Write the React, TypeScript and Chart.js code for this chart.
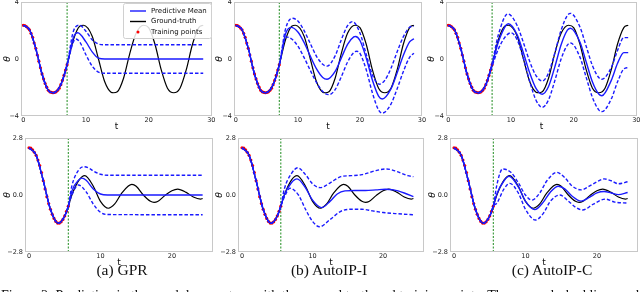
import React, { useEffect, useRef } from "react";
import { Chart, registerables } from "chart.js";
Chart.register(...registerables);

// ---------------- data ----------------
const TOP_X_TICKS = [0, 10, 20, 30];
const BOT_X_TICKS = [0, 10, 20];
const TOP_Y_TICKS = [-4, 0, 4];
const TOP_Y_LABELS = ["−4", "0", "4"];
const BOT_Y_TICKS = [-2.8, 0, 2.8];
const BOT_Y_LABELS = ["−2.8", "0.0", "2.8"];
const TOP_SPLIT = 7;
const BOT_SPLIT = 5.5;
const CAPTIONS = ["(a) GPR", "(b) AutoIP-I", "(c) AutoIP-C"];
const LEGEND_LABELS = ["Predictive Mean", "Ground-truth", "Training points"];
const FIG_TEXT =
  "Figure 2: Prediction in the pendulum system with the ground truth and training points. The green dashed line marks the end of the training data, and the";

// top row: undamped pendulum
const TOP_GT_T = [0, 1, 2, 3, 4, 4.8, 6, 7, 8, 9, 9.6, 11, 12, 13, 14, 14.4, 15, 16, 17, 18, 19.2, 20, 21, 22, 23, 24, 25, 26, 27, 28, 28.7];
const TOP_GT_Y = [2.37, 2.05, 0.75, -1.05, -2.2, -2.37, -1.8, -0.4, 1.35, 2.3, 2.37, 1.6, 0, -1.6, -2.33, -2.37, -2.3, -1.35, 0.4, 1.8, 2.37, 2.2, 1.05, -0.75, -2.05, -2.37, -2.05, -0.75, 1.05, 2.2, 2.37];
const TOP_TRAIN_T = [0, 0.25, 0.5, 0.75, 1, 1.25, 1.5, 1.75, 2, 2.25, 2.5, 2.75, 3, 3.25, 3.5, 3.75, 4, 4.25, 4.5, 4.75, 5, 5.25, 5.5, 5.75, 6, 6.25, 6.5, 6.75, 7];
const TOP_TRAIN_Y = [2.37, 2.35, 2.28, 2.17, 2.05, 1.8, 1.52, 1.12, 0.75, 0.28, -0.15, -0.62, -1.05, -1.4, -1.72, -1.98, -2.2, -2.3, -2.34, -2.37, -2.35, -2.3, -2.2, -2.05, -1.8, -1.5, -1.15, -0.78, -0.4];

const GPR_TOP_MEAN_T = [7, 8, 8.7, 10, 11, 12, 13, 28.7];
const GPR_TOP_MEAN_Y = [-0.4, 1.5, 1.84, 1.2, 0.5, 0.06, 0, 0];
const GPR_TOP_UP_T = [7, 8, 9, 10, 11, 12, 13, 28.7];
const GPR_TOP_UP_Y = [-0.4, 1.95, 2.37, 1.95, 1.35, 1.05, 1.0, 1.0];
const GPR_TOP_LO_T = [7, 8, 8.4, 9, 10, 11, 12, 13, 28.7];
const GPR_TOP_LO_Y = [-0.4, 1.2, 1.4, 1.2, 0.3, -0.5, -0.92, -1.0, -1.0];

const AIPI_TOP_MEAN_T = [7, 8, 8.9, 10, 11, 12, 13, 14, 14.7, 16, 17, 18, 19, 19.3, 20, 21, 22, 23, 23.6, 25, 26, 27, 28, 28.7];
const AIPI_TOP_MEAN_Y = [-0.4, 1.75, 2.22, 1.9, 1.16, 0.2, -0.7, -1.3, -1.42, -0.87, 0.08, 1.03, 1.55, 1.58, 1.3, 0.09, -1.47, -2.6, -2.81, -2.1, -0.97, 0.26, 1.2, 1.42];
const AIPI_TOP_UP_T = [7, 8, 9.1, 10, 11, 12, 13, 14, 14.7, 16, 17, 18, 18.8, 20, 21, 22, 23.1, 24, 25, 26, 27, 28, 28.7];
const AIPI_TOP_UP_Y = [-0.4, 2.1, 2.86, 2.66, 1.99, 1.08, 0.19, -0.37, -0.5, 0.22, 1.36, 2.34, 2.62, 1.83, 0.34, -1.1, -1.77, -1.5, -0.65, 0.51, 1.57, 2.22, 2.3];
const AIPI_TOP_LO_T = [7, 8.1, 9, 10, 11, 12, 13, 14, 15, 16, 17, 18, 19, 19.5, 20, 21, 22, 23, 23.6, 25, 26, 27, 28, 28.7];
const AIPI_TOP_LO_Y = [-0.4, 1.55, 1.4, 0.9, 0.1, -0.8, -1.65, -2.28, -2.5, -2.15, -1.24, -0.22, 0.45, 0.54, 0.39, -0.74, -2.37, -3.58, -3.8, -3.16, -2.08, -0.87, 0.12, 0.4];

const AIPC_TOP_MEAN_T = [7, 8, 9.6, 11, 12, 13, 14, 15, 16, 17, 18, 19, 19.5, 21, 22, 23, 24, 24.5, 26, 27, 28, 28.7];
const AIPC_TOP_MEAN_Y = [-0.4, 1.2, 2.47, 1.7, 0.42, -0.98, -2.06, -2.47, -1.93, -0.55, 1.0, 2.02, 2.16, 1.19, -0.21, -1.61, -2.46, -2.58, -1.5, -0.3, 0.45, 0.45];
const AIPC_TOP_UP_T = [7, 8, 9.5, 11, 12, 13, 14, 15, 16, 17, 18, 19, 19.5, 21, 22, 23, 24, 24.5, 26, 27, 28, 28.7];
const AIPC_TOP_UP_Y = [-0.3, 1.7, 3.16, 2.34, 1.14, -0.18, -1.16, -1.54, -0.98, 0.43, 2.02, 3.06, 3.2, 2.25, 0.89, -0.47, -1.3, -1.42, -0.6, 0.6, 1.5, 1.5];
const AIPC_TOP_LO_T = [7, 8, 9, 10, 11, 12, 13, 14, 15, 16, 17, 18, 19, 19.5, 21, 22, 23, 24, 24.5, 26, 27, 28, 28.7];
const AIPC_TOP_LO_Y = [-0.5, 0.7, 1.5, 1.84, 1.34, 0.03, -1.58, -2.89, -3.39, -2.86, -1.52, 0.0, 0.98, 1.12, 0.13, -1.29, -2.7, -3.57, -3.69, -2.8, -1.6, -0.7, -0.6];

// bottom row: damped pendulum
const BOT_GT_T = [0, 1, 2, 3, 4.1, 5, 5.5, 6, 7, 7.8, 9, 10, 11.1, 12, 13, 14.4, 15, 16, 17, 17.5, 18, 19, 20, 20.8, 22, 23, 24, 24.3];
const BOT_GT_Y = [2.32, 1.95, 0.7, -0.7, -1.39, -1.03, -0.55, 0, 0.73, 0.95, 0.43, -0.31, -0.65, -0.44, 0.1, 0.52, 0.43, 0, -0.31, -0.36, -0.32, -0.03, 0.21, 0.29, 0.13, -0.1, -0.2, -0.17];
const BOT_TRAIN_T = [0, 0.25, 0.5, 0.75, 1, 1.25, 1.5, 1.75, 2, 2.25, 2.5, 2.75, 3, 3.25, 3.5, 3.75, 4, 4.25, 4.5, 4.75, 5, 5.25, 5.5];
const BOT_TRAIN_Y = [2.32, 2.3, 2.22, 2.1, 1.95, 1.72, 1.45, 1.1, 0.7, 0.3, -0.08, -0.42, -0.7, -0.95, -1.15, -1.3, -1.38, -1.38, -1.32, -1.2, -1.03, -0.8, -0.55];

const GPR_BOT_MEAN_T = [5.5, 6, 7, 7.4, 8, 9, 10, 11, 24.3];
const GPR_BOT_MEAN_Y = [-0.55, 0.2, 0.75, 0.83, 0.72, 0.3, 0.05, 0, 0];
const GPR_BOT_UP_T = [5.5, 6, 7, 7.7, 8.5, 9, 10, 11, 24.3];
const GPR_BOT_UP_Y = [-0.55, 0.45, 1.25, 1.39, 1.3, 1.18, 1.02, 0.97, 0.97];
const GPR_BOT_LO_T = [5.5, 6, 6.9, 8, 9, 10, 11, 24.3];
const GPR_BOT_LO_Y = [-0.55, 0.0, 0.49, 0.15, -0.45, -0.85, -0.96, -0.97];

const AIPI_BOT_MEAN_T = [5.5, 6, 7, 7.8, 9, 10, 11.3, 12.5, 13.5, 14.6, 16, 17.5, 19, 20.3, 21.5, 23, 24.3];
const AIPI_BOT_MEAN_Y = [-0.55, 0.0, 0.6, 0.79, 0.35, -0.25, -0.62, -0.3, 0.05, 0.2, 0.22, 0.22, 0.25, 0.28, 0.25, 0.1, -0.08];
const AIPI_BOT_UP_T = [5.5, 6, 7, 7.9, 9, 10, 11.1, 12.5, 14, 15.5, 17, 19, 20.5, 22, 23.5, 24.3];
const AIPI_BOT_UP_Y = [-0.55, 0.3, 1.05, 1.34, 1.0, 0.55, 0.36, 0.6, 0.9, 0.95, 1.0, 1.2, 1.28, 1.15, 0.95, 0.9];
const AIPI_BOT_LO_T = [5.5, 6, 6.8, 8, 9, 10, 11, 12.5, 14, 15.5, 17, 18.5, 20, 22, 24.3];
const AIPI_BOT_LO_Y = [-0.55, -0.1, 0.33, 0.0, -0.7, -1.3, -1.56, -1.2, -0.8, -0.7, -0.7, -0.78, -0.86, -0.92, -0.97];

const AIPC_BOT_MEAN_T = [5.5, 6, 7, 7.7, 9, 10, 11.3, 12.5, 13.5, 14.6, 15.5, 16.5, 17.8, 19, 20, 21, 22, 23, 24.3];
const AIPC_BOT_MEAN_Y = [-0.55, 0.05, 0.7, 0.92, 0.4, -0.3, -0.72, -0.35, 0.15, 0.43, 0.3, -0.05, -0.3, -0.1, 0.1, 0.17, 0.1, 0.02, 0.12];
const AIPC_BOT_UP_T = [5.5, 6, 6.8, 8, 9, 10, 10.9, 12, 13, 14.4, 15.5, 16.5, 17.8, 19, 20, 21, 22, 23, 24.3];
const AIPC_BOT_UP_Y = [-0.55, 0.5, 1.28, 1.1, 0.6, 0.0, -0.25, 0.1, 0.7, 1.11, 0.85, 0.45, 0.25, 0.45, 0.65, 0.79, 0.7, 0.55, 0.65];
const AIPC_BOT_LO_T = [5.5, 6, 7, 7.8, 9, 10, 11.4, 12.5, 13.5, 14.8, 16, 17, 18, 19.5, 21.2, 22.5, 24.3];
const AIPC_BOT_LO_Y = [-0.55, -0.4, 0.3, 0.57, 0.1, -0.7, -1.23, -0.9, -0.3, 0.0, -0.3, -0.6, -0.74, -0.45, -0.2, -0.35, -0.4];

// ---------------- styling / layout ----------------
const BLUE = "#1a1aff";
const TICK_FONT = "DejaVu Sans";
Chart.defaults.font.family = TICK_FONT;

type XY = { x: number; y: number };
const pts = (t: number[], y: number[]): XY[] => t.map((v, i) => ({ x: v, y: y[i] }));
const withPrefix = (gtT: number[], gtY: number[], split: number, t: number[], y: number[]): XY[] => {
  const pre: XY[] = [];
  gtT.forEach((v, i) => {
    if (v < split) pre.push({ x: v, y: gtY[i] });
  });
  return pre.concat(pts(t, y));
};

type Panel = {
  frame: [number, number, number, number];
  xMin: number;
  xMax: number;
  yMin: number;
  yMax: number;
  xTicks: number[];
  yTicks: number[];
  yLabels: string[];
  gtT: number[];
  gtY: number[];
  trT: number[];
  trY: number[];
  split: number;
  mean: [number[], number[]];
  up: [number[], number[]];
  lo: [number[], number[]];
  thetaDx: number;
  legend?: boolean;
};

const TOP = { yMin: -4, yMax: 4, xTicks: TOP_X_TICKS, yTicks: TOP_Y_TICKS, yLabels: TOP_Y_LABELS, gtT: TOP_GT_T, gtY: TOP_GT_Y, trT: TOP_TRAIN_T, trY: TOP_TRAIN_Y, split: TOP_SPLIT };
const BOT = { yMin: -2.8, yMax: 2.8, xTicks: BOT_X_TICKS, yTicks: BOT_Y_TICKS, yLabels: BOT_Y_LABELS, gtT: BOT_GT_T, gtY: BOT_GT_Y, trT: BOT_TRAIN_T, trY: BOT_TRAIN_Y, split: BOT_SPLIT };

const PANELS: Panel[] = [
  { ...TOP, frame: [21, 2, 212, 116], xMin: -0.35, xMax: 30.1, mean: [GPR_TOP_MEAN_T, GPR_TOP_MEAN_Y], up: [GPR_TOP_UP_T, GPR_TOP_UP_Y], lo: [GPR_TOP_LO_T, GPR_TOP_LO_Y], thetaDx: 13, legend: true },
  { ...TOP, frame: [234, 2, 422, 116], xMin: -0.3, xMax: 30.0, mean: [AIPI_TOP_MEAN_T, AIPI_TOP_MEAN_Y], up: [AIPI_TOP_UP_T, AIPI_TOP_UP_Y], lo: [AIPI_TOP_LO_T, AIPI_TOP_LO_Y], thetaDx: 14 },
  { ...TOP, frame: [446, 2, 637, 116], xMin: -0.35, xMax: 30.1, mean: [AIPC_TOP_MEAN_T, AIPC_TOP_MEAN_Y], up: [AIPC_TOP_UP_T, AIPC_TOP_UP_Y], lo: [AIPC_TOP_LO_T, AIPC_TOP_LO_Y], thetaDx: 14 },
  { ...BOT, frame: [25, 138, 213, 252], xMin: -0.56, xMax: 25.75, mean: [GPR_BOT_MEAN_T, GPR_BOT_MEAN_Y], up: [GPR_BOT_UP_T, GPR_BOT_UP_Y], lo: [GPR_BOT_LO_T, GPR_BOT_LO_Y], thetaDx: 17 },
  { ...BOT, frame: [238, 138, 424, 252], xMin: -0.57, xMax: 25.8, mean: [AIPI_BOT_MEAN_T, AIPI_BOT_MEAN_Y], up: [AIPI_BOT_UP_T, AIPI_BOT_UP_Y], lo: [AIPI_BOT_LO_T, AIPI_BOT_LO_Y], thetaDx: 18.5 },
  { ...BOT, frame: [450, 138, 638, 252], xMin: -0.56, xMax: 25.75, mean: [AIPC_BOT_MEAN_T, AIPC_BOT_MEAN_Y], up: [AIPC_BOT_UP_T, AIPC_BOT_UP_Y], lo: [AIPC_BOT_LO_T, AIPC_BOT_LO_Y], thetaDx: 17.5 },
];

const PAD_L = 26;
const PAD_T = 6;
const PAD_R = 8;
const PAD_B = 18;

function PanelChart({ p }: { p: Panel }) {
  const ref = useRef<HTMLCanvasElement>(null);
  const [L, T, R, B] = p.frame;
  const cw = R - L + PAD_L + PAD_R;
  const ch = B - T + PAD_T + PAD_B;
  const cLeft = L - PAD_L;
  const cTop = T - PAD_T;

  useEffect(() => {
    if (!ref.current) return;
    const lineBase = { pointRadius: 0, fill: false, cubicInterpolationMode: "monotone" as const };
    const decor = {
      id: "decor",
      afterDraw(chart: any) {
        const { ctx, chartArea: a } = chart;
        ctx.save();
        ctx.strokeStyle = "#c8c8c8";
        ctx.lineWidth = 1;
        ctx.strokeRect(a.left + 0.5, a.top + 0.5, a.right - a.left - 1, a.bottom - a.top - 1);
        ctx.fillStyle = "#111";
        ctx.font = "9px DejaVu Sans";
        ctx.textAlign = "center";
        ctx.textBaseline = "middle";
        ctx.fillText("t", (a.left + a.right) / 2, a.bottom + 10.5);
        ctx.save();
        ctx.translate(a.left - p.thetaDx, (a.top + a.bottom) / 2);
        ctx.rotate(-Math.PI / 2);
        ctx.font = "italic 9px DejaVu Sans";
        ctx.fillText("θ", 0, 0);
        ctx.restore();
        if (p.legend) {
          const ox = -cLeft;
          const oy = -cTop;
          const bx = 123 + ox, by = 3 + oy, bw = 88, bh = 35;
          ctx.fillStyle = "rgba(255,255,255,0.85)";
          ctx.strokeStyle = "#d0d0d0";
          ctx.beginPath();
          ctx.roundRect(bx + 0.5, by + 0.5, bw, bh, 2);
          ctx.fill();
          ctx.stroke();
          const rows = [11 + oy, 21.5 + oy, 32 + oy];
          ctx.lineWidth = 1.4;
          ctx.strokeStyle = BLUE;
          ctx.beginPath();
          ctx.moveTo(130 + ox, rows[0]);
          ctx.lineTo(146 + ox, rows[0]);
          ctx.stroke();
          ctx.strokeStyle = "#000";
          ctx.beginPath();
          ctx.moveTo(130 + ox, rows[1]);
          ctx.lineTo(146 + ox, rows[1]);
          ctx.stroke();
          ctx.fillStyle = "#ff0000";
          ctx.beginPath();
          ctx.arc(138 + ox, rows[2], 1.5, 0, Math.PI * 2);
          ctx.fill();
          ctx.fillStyle = "#111";
          ctx.font = "7px DejaVu Sans";
          ctx.textAlign = "left";
          LEGEND_LABELS.forEach((s, i) => ctx.fillText(s, 151 + ox, rows[i]));
        }
        ctx.restore();
      },
    };

    const chart = new Chart(ref.current, {
      type: "line",
      data: {
        datasets: [
          { ...lineBase, label: "Predictive Mean", data: withPrefix(p.gtT, p.gtY, p.split, p.mean[0], p.mean[1]), borderColor: BLUE, borderWidth: 1.4 },
          { ...lineBase, label: "upper", data: withPrefix(p.gtT, p.gtY, p.split, p.up[0], p.up[1]), borderColor: BLUE, borderWidth: 1.4, borderDash: [3.5, 2] },
          { ...lineBase, label: "lower", data: withPrefix(p.gtT, p.gtY, p.split, p.lo[0], p.lo[1]), borderColor: BLUE, borderWidth: 1.4, borderDash: [3.5, 2] },
          { ...lineBase, label: "Ground-truth", data: pts(p.gtT, p.gtY), borderColor: "#000", borderWidth: 1.2 },
          { label: "Training points", data: pts(p.trT, p.trY), showLine: false, pointRadius: 1.6, pointBorderWidth: 0, pointBackgroundColor: "#ff0000", borderColor: "#ff0000" },
          { label: "split", data: [{ x: p.split, y: p.yMin }, { x: p.split, y: p.yMax }], borderColor: "#1e8c1e", borderWidth: 1, borderDash: [2, 1.5], pointRadius: 0 },
        ],
      },
      options: {
        responsive: false,
        animation: false,
        devicePixelRatio: 1,
        layout: { padding: { left: 0, top: PAD_T, right: PAD_R, bottom: 0 } },
        plugins: { legend: { display: false }, tooltip: { enabled: false }, title: { display: false } },
        elements: { line: { tension: 0 } },
        scales: {
          x: {
            type: "linear",
            min: p.xMin,
            max: p.xMax,
            grid: { display: false, drawTicks: false },
            border: { display: false },
            afterBuildTicks: (s: any) => {
              s.ticks = p.xTicks.map((v) => ({ value: v }));
            },
            afterFit: (s: any) => {
              s.height = PAD_B;
              s.paddingLeft = 0;
              s.paddingRight = 0;
            },
            ticks: { autoSkip: false, maxRotation: 0, minRotation: 0, padding: 0, color: "#222", font: { size: 6.5, family: TICK_FONT }, callback: (v: any) => String(v) },
          },
          y: {
            type: "linear",
            min: p.yMin,
            max: p.yMax,
            grid: { display: false, drawTicks: false },
            border: { display: false },
            afterBuildTicks: (s: any) => {
              s.ticks = p.yTicks.map((v) => ({ value: v }));
            },
            afterFit: (s: any) => {
              s.width = PAD_L;
              s.paddingTop = 0;
              s.paddingBottom = 0;
            },
            ticks: {
              autoSkip: false,
              padding: 2,
              color: "#222",
              font: { size: 6.5, family: TICK_FONT },
              callback: (v: any) => {
                const i = p.yTicks.findIndex((t) => Math.abs(t - Number(v)) < 1e-6);
                return i >= 0 ? p.yLabels[i] : "";
              },
            },
          },
        },
      },
      plugins: [decor],
    } as any);
    return () => chart.destroy();
  }, []);

  return (
    <canvas
      ref={ref}
      width={cw}
      height={ch}
      style={{ position: "absolute", left: cLeft, top: cTop, width: cw, height: ch }}
    />
  );
}

const CAPTION_CENTERS = [122, 329, 552];

export default function App() {
  return (
    <div style={{ position: "absolute", left: 0, top: 0, width: 640, height: 292, overflow: "hidden", background: "#fff" }}>
      {PANELS.map((p, i) => (
        <PanelChart key={i} p={p} />
      ))}
      {CAPTIONS.map((c, i) => (
        <div
          key={c}
          style={{
            position: "absolute",
            left: CAPTION_CENTERS[i] - 100,
            width: 200,
            top: 261,
            lineHeight: "18px",
            textAlign: "center",
            fontFamily: "'Liberation Serif', serif",
            fontSize: 15.5,
            color: "#111",
          }}
        >
          {c}
        </div>
      ))}
      <div
        style={{
          position: "absolute",
          left: 1,
          top: 288,
          whiteSpace: "nowrap",
          lineHeight: "16px",
          fontFamily: "'Liberation Serif', serif",
          fontSize: 14,
          color: "#111",
        }}
      >
        {FIG_TEXT}
      </div>
    </div>
  );
}
